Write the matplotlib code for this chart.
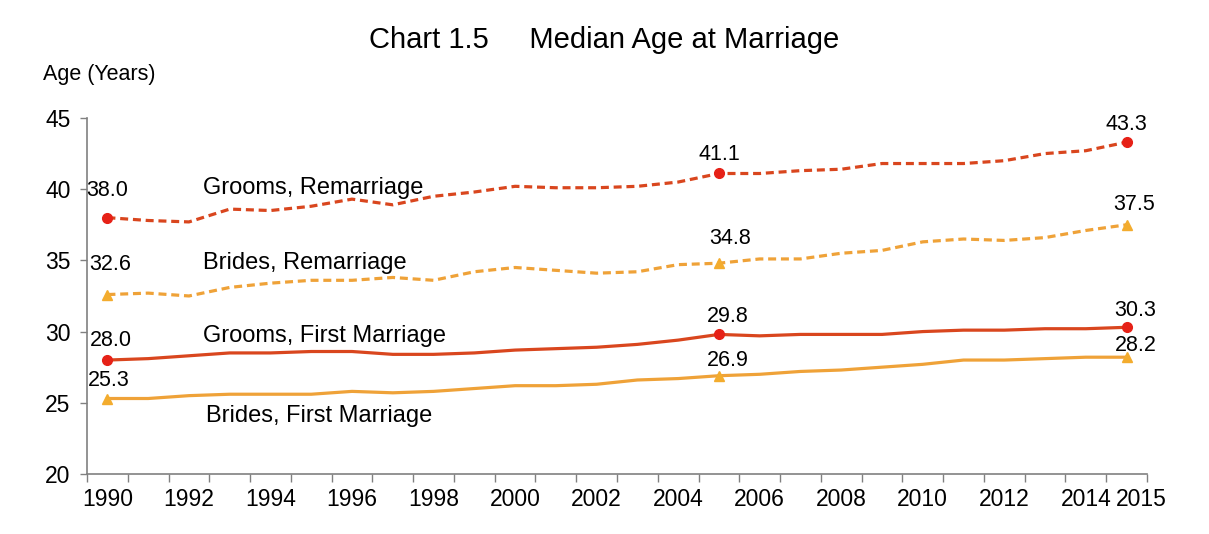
import matplotlib.pyplot as plt
import matplotlib.transforms as mtransforms

plt.rcParams["font.family"] = ["Liberation Sans", "DejaVu Sans"]

# Data
years = list(range(1990, 2016))
grooms_remarriage = [38.0, 37.8, 37.7, 38.6, 38.5, 38.8, 39.3, 38.9, 39.5, 39.8,
                     40.2, 40.1, 40.1, 40.2, 40.5, 41.1, 41.1, 41.3, 41.4, 41.8,
                     41.8, 41.8, 42.0, 42.5, 42.7, 43.3]
brides_remarriage = [32.6, 32.7, 32.5, 33.1, 33.4, 33.6, 33.6, 33.8, 33.6, 34.2,
                     34.5, 34.3, 34.1, 34.2, 34.7, 34.8, 35.1, 35.1, 35.5, 35.7,
                     36.3, 36.5, 36.4, 36.6, 37.1, 37.5]
grooms_first = [28.0, 28.1, 28.3, 28.5, 28.5, 28.6, 28.6, 28.4, 28.4, 28.5,
                28.7, 28.8, 28.9, 29.1, 29.4, 29.8, 29.7, 29.8, 29.8, 29.8,
                30.0, 30.1, 30.1, 30.2, 30.2, 30.3]
brides_first = [25.3, 25.3, 25.5, 25.6, 25.6, 25.6, 25.8, 25.7, 25.8, 26.0,
                26.2, 26.2, 26.3, 26.6, 26.7, 26.9, 27.0, 27.2, 27.3, 27.5,
                27.7, 28.0, 28.0, 28.1, 28.2, 28.2]
series_names = ["Grooms, Remarriage", "Brides, Remarriage",
                "Grooms, First Marriage", "Brides, First Marriage"]
labelled_years = [1990, 2005, 2015]

red_line = "#D9461E"
red_mark = "#E62117"
orange_line = "#EFA238"
orange_mark = "#F3AC2E"

fig = plt.figure(figsize=(12.09, 5.34), dpi=100)
ax = fig.add_axes([0.072, 0.1124, 0.8767, 0.6667])

x = list(range(len(years)))
marks = [years.index(y) for y in labelled_years]

styles = [
    (grooms_remarriage, red_line, red_mark, "o", (0, (2.5, 1.5))),
    (brides_remarriage, orange_line, orange_mark, "^", (0, (2.5, 1.5))),
    (grooms_first, red_line, red_mark, "o", "-"),
    (brides_first, orange_line, orange_mark, "^", "-"),
]
# label offsets in pixels (dx, dy up) for each labelled point
label_offsets = [
    [(0, 27), (0, 19), (0, 18)],
    [(3, 30), (11, 25), (8, 20)],
    [(3, 20), (9, 18), (9, 17)],
    [(1, 18), (9, 15), (9, 12)],
]

for (vals, lc, mc, mk, ls), offs in zip(styles, label_offsets):
    ax.plot(x, vals, color=lc, lw=2.3, linestyle=ls, zorder=2)
    ax.plot([x[i] for i in marks], [vals[i] for i in marks], linestyle="none",
            marker=mk, ms=7, color=mc, mec=mc, zorder=3)
    for i, (dx, dy) in zip(marks, offs):
        ax.annotate(f"{vals[i]:.1f}", (x[i], vals[i]),
                    xytext=(dx * 0.72, dy * 0.72), textcoords="offset points",
                    ha="center", va="center", fontsize=15.5)

# series names
name_pos = [(2.34, 40.1), (2.34, 34.85), (2.34, 29.7), (2.42, 24.1)]
for name, (nx, ny) in zip(series_names, name_pos):
    ax.text(nx, ny, name, fontsize=17, ha="left", va="center")

ax.set_xlim(-0.5, len(years) - 0.5)
ax.set_ylim(20, 45)
ax.set_yticks(range(20, 46, 5))

tick_idx = [i for i, y in enumerate(years) if y % 2 == 0] + [len(years) - 1]
ax.set_xticks(tick_idx)
ax.set_xticklabels([str(years[i]) for i in tick_idx])
ax.set_xticks([i - 0.5 for i in range(len(years) + 1)], minor=True)
ax.tick_params(axis="x", which="major", length=0, pad=10, labelsize=16.5)
ax.tick_params(axis="x", which="minor", length=6, width=1, color="#808080")
ax.tick_params(axis="y", length=5, width=1, color="#808080", pad=7, labelsize=16.5)

# shift the last label right so it clears 2014
last = ax.get_xticklabels()[-1]
last.set_transform(last.get_transform() +
                   mtransforms.ScaledTranslation(0.15, 0, fig.dpi_scale_trans))

for side in ["top", "right"]:
    ax.spines[side].set_visible(False)
for side in ["left", "bottom"]:
    ax.spines[side].set_color("#808080")
    ax.spines[side].set_linewidth(1.2)

fig.text(0.5, 0.925, "Chart 1.5     Median Age at Marriage", fontsize=21,
         ha="center", va="center")
fig.text(0.0356, 0.86, "Age (Years)", fontsize=15.5, ha="left", va="center")

fig.savefig("out.png", dpi=100)
